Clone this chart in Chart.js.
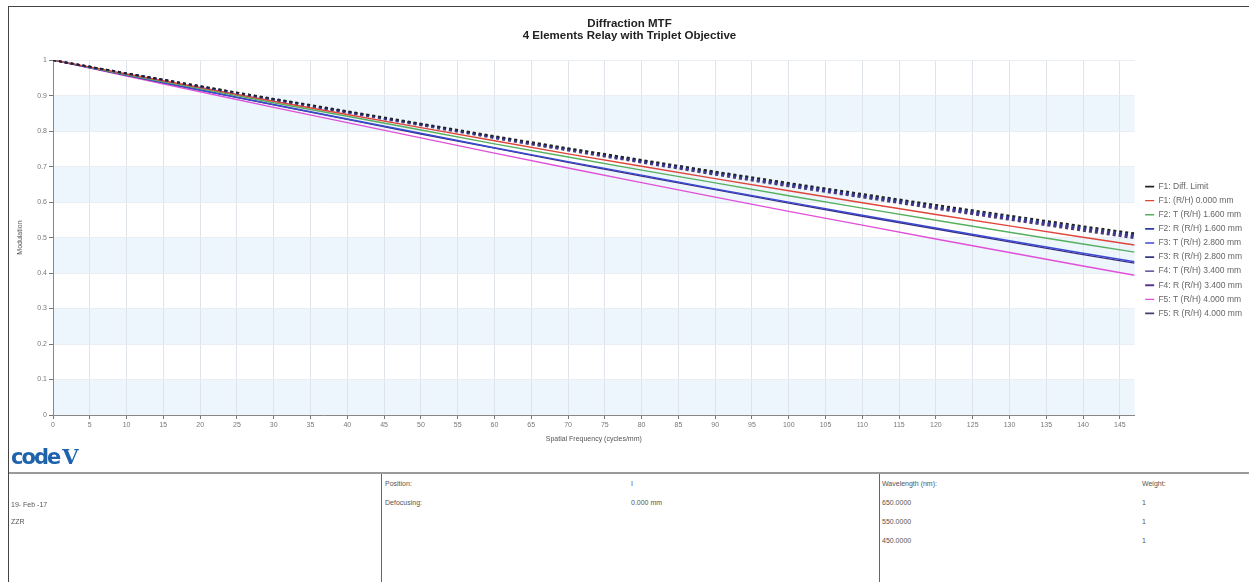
<!DOCTYPE html>
<html>
<head>
<meta charset="utf-8">
<title>Diffraction MTF</title>
<script src="https://cdn.jsdelivr.net/npm/chart.js@4.4.1/dist/chart.umd.min.js"></script>
<style>
  body {
    margin: 0;
    width: 1249px;
    height: 582px;
    position: relative;
    overflow: hidden;
    background: #fff;
    font-family: "Liberation Sans", Arial, sans-serif;
  }
  .frame {
    position: absolute;
    left: 8px;
    top: 6px;
    right: -4px;
    bottom: -4px;
    border-left: 1px solid #444;
    border-top: 1px solid #444;
  }
  .chart-wrap {
    position: absolute;
    left: 0;
    top: 0;
    width: 1249px;
    height: 447px;
  }
  .logo {
    position: absolute;
    left: 11px;
    top: 444px;
    color: #1f63ad;
    font: bold 21px "DejaVu Sans", sans-serif;
    letter-spacing: -2px;
  }
  .logo span {
    font-family: "DejaVu Serif", serif;
    letter-spacing: 0;
    margin-left: 3px;
  }
  .info {
    position: absolute;
    left: 9px;
    top: 472px;
    width: 1240px;
    height: 110px;
    border-top: 2px solid #9a9a9a;
  }
  .sep {
    position: absolute;
    top: 0;
    bottom: 0;
    width: 0;
    border-left: 1.5px solid #666;
  }
  .txt {
    position: absolute;
    font-size: 7px;
    color: #555;
    white-space: nowrap;
  }
</style>
</head>
<body>
<div class="frame"></div>
<div class="chart-wrap"><canvas id="mtf-chart" width="1249" height="447"></canvas></div>
<div class="logo">code<span>V</span></div>
<div class="info">
  <div class="sep" style="left: 372px"></div>
  <div class="sep" style="left: 870px"></div>
  <div class="txt" style="left: 2px; top: 27px">19- Feb -17</div>
  <div class="txt" style="left: 2px; top: 44px">ZZR</div>
  <div class="txt" style="left: 376px; top: 6px">Position:</div>
  <div class="txt" style="left: 622px; top: 6px">I</div>
  <div class="txt" style="left: 376px; top: 25px">Defocusing:</div>
  <div class="txt" style="left: 622px; top: 25px">0.000 mm</div>
  <div class="txt" style="left: 873px; top: 6px">Wavelength (nm):</div>
  <div class="txt" style="left: 1133px; top: 6px">Weight:</div>
  <div class="txt" style="left: 873px; top: 25px">650.0000</div>
  <div class="txt" style="left: 1133px; top: 25px">1</div>
  <div class="txt" style="left: 873px; top: 44px">550.0000</div>
  <div class="txt" style="left: 1133px; top: 44px">1</div>
  <div class="txt" style="left: 873px; top: 63px">450.0000</div>
  <div class="txt" style="left: 1133px; top: 63px">1</div>
</div>
<script>
// spatial frequency, cycles/mm
const freq = [0, 10, 20, 30, 40, 50, 60, 70, 80, 90, 100, 110, 120, 130, 140, 147];

const diffLimit = [1.000, 0.963, 0.927, 0.891, 0.856, 0.821, 0.786, 0.752, 0.719, 0.686, 0.654, 0.623, 0.592, 0.562, 0.532, 0.512];
const f1 = [1.000, 0.961, 0.923, 0.884, 0.847, 0.810, 0.773, 0.736, 0.701, 0.666, 0.632, 0.598, 0.565, 0.533, 0.501, 0.479];
const f2T = [1.000, 0.959, 0.920, 0.880, 0.842, 0.803, 0.764, 0.727, 0.690, 0.654, 0.618, 0.583, 0.549, 0.515, 0.482, 0.459];
const f2R = [1.000, 0.963, 0.926, 0.890, 0.855, 0.820, 0.784, 0.750, 0.717, 0.684, 0.651, 0.620, 0.589, 0.558, 0.528, 0.508];
const f3T = [1.000, 0.958, 0.916, 0.875, 0.834, 0.794, 0.753, 0.714, 0.676, 0.637, 0.600, 0.563, 0.527, 0.491, 0.456, 0.432];
const f3R = [1.000, 0.963, 0.926, 0.890, 0.854, 0.819, 0.783, 0.749, 0.715, 0.682, 0.649, 0.618, 0.586, 0.556, 0.525, 0.505];
const f4T = [1.000, 0.957, 0.916, 0.874, 0.833, 0.792, 0.752, 0.712, 0.673, 0.635, 0.597, 0.560, 0.524, 0.488, 0.452, 0.428];
const f4R = [1.000, 0.962, 0.926, 0.889, 0.853, 0.818, 0.782, 0.747, 0.714, 0.680, 0.647, 0.616, 0.584, 0.553, 0.522, 0.502];
const f5T = [1.000, 0.955, 0.911, 0.867, 0.824, 0.781, 0.738, 0.696, 0.655, 0.614, 0.574, 0.535, 0.496, 0.458, 0.420, 0.394];
const f5R = [1.000, 0.962, 0.925, 0.888, 0.852, 0.816, 0.780, 0.745, 0.711, 0.677, 0.644, 0.613, 0.581, 0.550, 0.519, 0.498];

const seriesLabels = [
  "F1: Diff. Limit",
  "F1: (R/H) 0.000 mm",
  "F2: T (R/H) 1.600 mm",
  "F2: R (R/H) 1.600 mm",
  "F3: T (R/H) 2.800 mm",
  "F3: R (R/H) 2.800 mm",
  "F4: T (R/H) 3.400 mm",
  "F4: R (R/H) 3.400 mm",
  "F5: T (R/H) 4.000 mm",
  "F5: R (R/H) 4.000 mm",
];
const seriesValues = [diffLimit, f1, f2T, f2R, f3T, f3R, f4T, f4R, f5T, f5R];

// light blue bands behind the plot, [from, to] in modulation
const bands = [[0, 0.1], [0.2, 0.3], [0.4, 0.5], [0.6, 0.7], [0.8, 0.9]];

const colors = ["#222222", "#e0453a", "#55b060", "#2e3e9e", "#3c4ad0", "#353585", "#3a2c80", "#5c3492", "#e050d8", "#404070"];
const dashed = [true, false, false, true, false, true, false, true, false, true];

const datasets = seriesValues.map((values, i) => ({
  label: seriesLabels[i],
  data: values.map((v, j) => ({ x: freq[j], y: v })),
  borderColor: colors[i],
  backgroundColor: colors[i],
  borderWidth: dashed[i] ? 1.8 : 1.4,
  borderDash: dashed[i] ? [3, 3] : [],
  pointRadius: 0,
  tension: 0,
  order: dashed[i] ? 0 : 1,
}));

const bandsPlugin = {
  id: "bands",
  beforeDraw(chart) {
    const { ctx, chartArea, scales } = chart;
    ctx.save();
    ctx.fillStyle = "#edf5fd";
    bands.forEach(([from, to]) => {
      const top = scales.y.getPixelForValue(to);
      const bottom = scales.y.getPixelForValue(from);
      ctx.fillRect(chartArea.left, top, chartArea.right - chartArea.left, bottom - top);
    });
    ctx.restore();
  },
};

// nudge the legend box a little right and down, like the original plot
const legendShift = {
  id: "legendShift",
  afterLayout(chart) {
    const lg = chart.legend;
    lg.left += 5;
    lg.right += 5;
    lg.top += 23;
    lg.bottom += 23;
  },
};

const smallFont = { family: "'Liberation Sans', Arial, sans-serif", size: 7 };

new Chart(document.getElementById("mtf-chart"), {
  type: "line",
  data: { datasets },
  plugins: [bandsPlugin, legendShift],
  options: {
    responsive: false,
    animation: false,
    layout: { padding: { left: 12, right: 2, top: 7, bottom: 0 } },
    plugins: {
      title: {
        display: true,
        text: ["Diffraction MTF", "4 Elements Relay with Triplet Objective"],
        color: "#222",
        font: { family: "'Liberation Sans', Arial, sans-serif", size: 11.5, weight: "bold", lineHeight: 1.05 },
        padding: { top: 11, bottom: 18 },
      },
      legend: {
        position: "right",
        align: "center",
        labels: {
          usePointStyle: true,
          pointStyle: "line",
          pointStyleWidth: 9,
          padding: 5.6,
          color: "#666",
          font: { family: "'Liberation Sans', Arial, sans-serif", size: 8.5 },
          sort: (a, b) => a.datasetIndex - b.datasetIndex,
        },
      },
      tooltip: { enabled: false },
    },
    scales: {
      x: {
        type: "linear",
        min: 0,
        max: 147,
        afterFit: (s) => { s.height = 32; },
        ticks: { stepSize: 5, includeBounds: false, color: "#777", font: smallFont, padding: 2, maxRotation: 0 },
        grid: { color: "#dfe4ea", tickColor: "#777", tickLength: 4 },
        border: { color: "#888", width: 1 },
        title: { display: true, text: "Spatial Frequency (cycles/mm)", color: "#555", font: smallFont, padding: { top: 3 } },
      },
      y: {
        min: 0,
        max: 1,
        afterFit: (s) => { s.width = 41; },
        ticks: {
          stepSize: 0.1,
          color: "#777",
          font: smallFont,
          padding: 2,
          callback: (v) => String(Number(v.toFixed(1))),
        },
        grid: { color: "#e8eef4", tickColor: "#777", tickLength: 4 },
        border: { color: "#888", width: 1 },
        title: { display: true, text: "Modulation", color: "#555", font: smallFont, padding: { top: 4, bottom: 0 } },
      },
    },
  },
});
</script>
</body>
</html>
